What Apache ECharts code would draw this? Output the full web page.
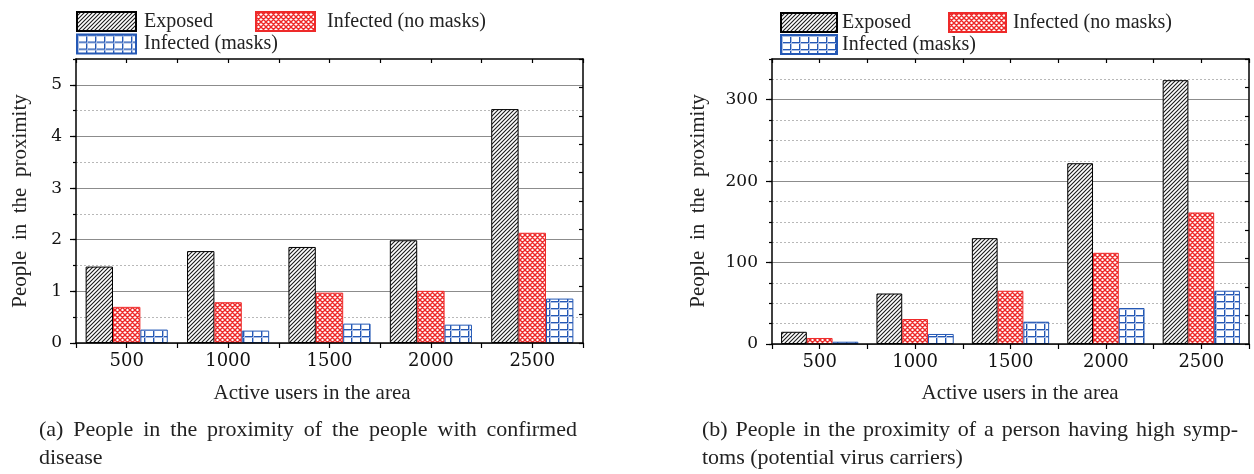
<!DOCTYPE html>
<html><head><meta charset="utf-8">
<script src="https://cdn.jsdelivr.net/npm/echarts@6/dist/echarts.min.js"></script>
<style>html,body{margin:0;padding:0;background:#fff}#c{width:1254px;height:474px}</style>
</head><body><div id="c"></div><script>
// ---------- data ----------
const categories = ['500', '1000', '1500', '2000', '2500'];
const seriesNames = ['Exposed', 'Infected (no masks)', 'Infected (masks)'];
const leftExposed = [1.48, 1.78, 1.86, 1.99, 4.53];
const leftNoMasks = [0.70, 0.79, 0.975, 1.01, 2.135];
const leftMasks = [0.26, 0.24, 0.375, 0.355, 0.86];
const rightExposed = [15, 62, 130, 222, 324];
const rightNoMasks = [7.4, 30.7, 65.4, 112, 161.5];
const rightMasks = [2.8, 12.3, 27.4, 44.2, 65.4];
const xTitle = 'Active users in the area';
const yTitle = 'People  in  the  proximity';
const captionA = ['(a) People in the proximity of the people with confirmed', 'disease'];
const captionB = ['(b) People in the proximity of a person having high symp-', 'toms (potential virus carriers)'];

// ---------- styles ----------
const SERIF = 'Liberation Serif';
const NUM = 'DejaVu Serif';
function makeCanvas(w, h, draw) {
  const c = document.createElement('canvas'); c.width = w; c.height = h;
  const g = c.getContext('2d'); g.fillStyle = '#fff'; g.fillRect(0, 0, w, h); draw(g, w, h); return c;
}
const hatch = makeCanvas(4, 4, g => {
  g.strokeStyle = '#1a1a1a'; g.lineWidth = 1.1; g.beginPath();
  g.moveTo(-1, 5); g.lineTo(5, -1); g.moveTo(3, 5); g.lineTo(5, 3); g.moveTo(-1, 1); g.lineTo(1, -1); g.stroke();
});
const net = makeCanvas(5, 5, g => {
  g.strokeStyle = '#ee2a2a'; g.lineWidth = 1.4; g.beginPath();
  g.moveTo(-1, -1); g.lineTo(6, 6); g.moveTo(-1, 6); g.lineTo(6, -1);
  g.moveTo(4, -1); g.lineTo(6, 1); g.moveTo(-1, 4); g.lineTo(1, 6);
  g.moveTo(-1, 1); g.lineTo(1, -1); g.moveTo(4, 6); g.lineTo(6, 4);
  g.stroke();
});
const grid = makeCanvas(9, 7, g => {
  g.fillStyle = '#2458b5'; g.fillRect(0, 0, 1, 7); g.fillRect(0, 0, 9, 1);
  g.fillStyle = '#a9bde3'; g.fillRect(1, 0, 1, 7); g.fillRect(0, 1, 9, 1);
});
const fills = [
  { color: { image: hatch, repeat: 'repeat' }, border: '#000' },
  { color: { image: net, repeat: 'repeat' }, border: '#ee2a2a' },
  { color: { image: grid, repeat: 'repeat' }, border: '#2458b5' }
];

// ---------- axes ----------
const grids = [
  { left: 76, top: 59, width: 507, height: 284 },
  { left: 772, top: 59, width: 477, height: 285 }
];
const xAxes = [], yAxes = [];
const yConf = [
  { max: 5.5, major: 1, minor: 0.5, right: 0.55, minorColors: ['rgba(0,0,0,0)', '#b8b8b8'] },
  { max: 350, major: 100, minor: 25, right: 35, minorColors: ['rgba(0,0,0,0)', '#b8b8b8', '#b8b8b8', '#b8b8b8'] }
];
const axLine = { show: true, onZero: false, lineStyle: { color: '#000', width: 1.5 } };
const noLine = { show: false, onZero: false };
const tickStyle = { color: '#000', width: 1.2 };
for (let gi = 0; gi < 2; gi++) {
  xAxes.push({ gridIndex: gi, type: 'category', data: categories, position: 'bottom',
    axisLine: axLine, axisTick: { show: false },
    axisLabel: { fontFamily: NUM, fontSize: 18, color: '#111', margin: 9 }, splitLine: { show: false }, z: 5 });
  xAxes.push({ gridIndex: gi, type: 'value', position: 'bottom', min: 0, max: 5, interval: 0.5,
    axisLine: noLine, axisTick: { show: true, inside: false, length: 5, lineStyle: tickStyle },
    axisLabel: { show: false }, splitLine: { show: false } });
  xAxes.push({ gridIndex: gi, type: 'value', position: 'top', min: 0, max: 5, interval: 0.5,
    axisLine: axLine, axisTick: { show: true, inside: true, length: 4, lineStyle: tickStyle },
    axisLabel: { show: false }, splitLine: { show: false }, z: 6 });
  const c = yConf[gi];
  yAxes.push({ gridIndex: gi, type: 'value', position: 'left', min: 0, max: c.max, interval: c.major,
    axisLine: axLine, axisTick: { show: true, length: 6, lineStyle: tickStyle },
    axisLabel: { fontFamily: NUM, fontSize: 17, color: '#111', margin: 14, showMaxLabel: false },
    splitLine: { show: true, showMaxLine: false, lineStyle: { color: '#8c8c8c', width: 1 } } });
  yAxes.push({ gridIndex: gi, type: 'value', position: 'left', min: 0, max: c.max, interval: c.minor,
    axisLine: noLine, axisTick: { show: true, length: 3, lineStyle: tickStyle },
    axisLabel: { show: false },
    splitLine: { show: true, showMaxLine: false, lineStyle: { color: c.minorColors, type: [2, 2], width: 1 } } });
  yAxes.push({ gridIndex: gi, type: 'value', position: 'right', min: 0, max: c.max, interval: c.right,
    axisLine: axLine, axisTick: { show: true, inside: true, length: 4, lineStyle: tickStyle },
    axisLabel: { show: false }, splitLine: { show: false }, z: 5 });
}

// ---------- series ----------
const dataSets = [[leftExposed, leftNoMasks, leftMasks], [rightExposed, rightNoMasks, rightMasks]];
const series = [];
for (let gi = 0; gi < 2; gi++) {
  for (let s = 0; s < 3; s++) {
    series.push({ type: 'bar', name: seriesNames[s], data: dataSets[gi][s],
      xAxisIndex: gi * 3, yAxisIndex: gi * 3, barGap: '0%', barCategoryGap: '19%', z: 2,
      itemStyle: { color: fills[s].color, borderColor: fills[s].border, borderWidth: 1 },
      emphasis: { disabled: true }, silent: true });
  }
}

// ---------- legends ----------
function lg(name, left, top, w, pad) {
  return { data: [name], left, top, itemWidth: w, itemHeight: 19, itemGap: 0, icon: 'rect',
    selectedMode: false, padding: 0,
    textStyle: { fontFamily: SERIF, fontSize: 20, color: '#222', padding: [0, 0, 0, pad] } };
}
const legends = [
  lg(seriesNames[0], 76, 11, 59, 3), lg(seriesNames[1], 255, 11, 59, 7), lg(seriesNames[2], 76, 33.5, 59, 3),
  lg(seriesNames[0], 780, 12, 56, 0), lg(seriesNames[1], 948, 12, 57, 2), lg(seriesNames[2], 780, 34, 56, 0)
];

// ---------- texts ----------
const graphics = [];
function txt(text, x, y, size, align, rot) {
  graphics.push({ type: 'text', x, y, rotation: rot || 0, silent: true,
    style: { text, fontFamily: SERIF, fontSize: size, fill: '#222', align: align || 'center', textAlign: align || 'center',
      verticalAlign: 'middle', textVerticalAlign: 'middle' } });
}
txt(xTitle, 312, 393, 21);
txt(xTitle, 1020, 393, 21);
txt(yTitle, 20, 201, 21, 'center', Math.PI / 2);
txt(yTitle, 698, 201, 21, 'center', Math.PI / 2);
const mctx = document.createElement('canvas').getContext('2d');
function justified(line, x0, x1, y, size) {
  mctx.font = size + 'px "' + SERIF + '"';
  const words = line.split(' ');
  const widths = words.map(w => mctx.measureText(w).width);
  const total = widths.reduce((a, b) => a + b, 0);
  const gap = (x1 - x0 - total) / (words.length - 1);
  let x = x0;
  words.forEach((w, i) => { txt(w, x, y, size, 'left'); x += widths[i] + gap; });
}
justified(captionA[0], 39, 577, 430, 22);
txt(captionA[1], 39, 458, 22, 'left');
justified(captionB[0], 702, 1238, 430, 22);
txt(captionB[1], 702, 458, 22, 'left');

const chart = echarts.init(document.getElementById('c'), null, { renderer: 'canvas' });
chart.setOption({
  animation: false,
  backgroundColor: '#fff',
  grid: grids,
  xAxis: xAxes,
  yAxis: yAxes,
  legend: legends,
  series,
  graphic: graphics
});
</script></body></html>
